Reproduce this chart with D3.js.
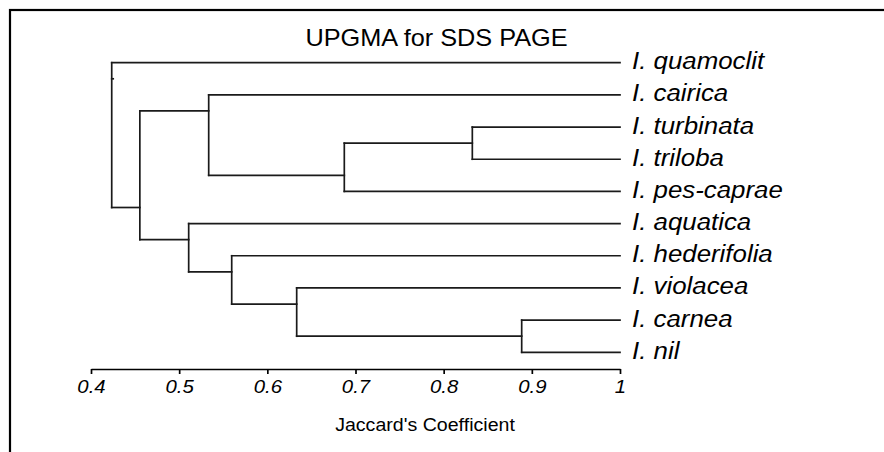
<!DOCTYPE html>
<html>
<head>
<meta charset="utf-8">
<script src="https://cdn.jsdelivr.net/npm/d3@7"></script>
<style>
  body { margin: 0; background: #fff; }
  text { font-family: "Liberation Sans", Arial, sans-serif; fill: #000; }
</style>
</head>
<body>
<div id="chart"></div>
<script>
// Width and height
var w = 884;
var h = 452;

// leaves, top to bottom
var species = ["I. quamoclit", "I. cairica", "I. turbinata", "I. triloba", "I. pes-caprae",
               "I. aquatica", "I. hederifolia", "I. violacea", "I. carnea", "I. nil"];

// UPGMA merges, "nK" = result of merge K (1-based); first item is the upper branch
var mergeA = ["I. carnea", "I. turbinata", "n2", "I. violacea", "I. hederifolia", "I. aquatica", "I. cairica", "n7", "I. quamoclit"];
var mergeB = ["I. nil", "I. triloba", "I. pes-caprae", "n1", "n4", "n5", "n3", "n6", "n8"];
var mergeHeight = [0.8885, 0.8325, 0.6873, 0.6333, 0.5596, 0.5108, 0.5335, 0.4554, 0.4235];

var tickValues = [0.4, 0.5, 0.6, 0.7, 0.8, 0.9, 1];

var x = d3.scaleLinear().domain([0.4, 1]).range([91, 620]);
var y = d3.scalePoint().domain(species).range([62.7, 352.3]).padding(0);

var svg = d3.select("#chart")
  .append("svg")
  .attr("width", w)
  .attr("height", h);

// outer frame (runs past the right and bottom edge)
svg.append("rect")
  .attr("x", 10).attr("y", 10)
  .attr("width", 900).attr("height", 480)
  .attr("fill", "none")
  .attr("stroke", "#000")
  .attr("stroke-width", 2.2);

// build node info
var nodes = {};
species.forEach(function(s) {
  nodes[s] = { x: x(1), y: y(s), first: y(s), last: y(s) };
});

var segs = [];
for (var i = 0; i < mergeHeight.length; i++) {
  var a = nodes[mergeA[i]], b = nodes[mergeB[i]];
  var nx = x(mergeHeight[i]);
  // horizontal branches
  segs.push([a.x, a.y, nx, a.y]);
  segs.push([b.x, b.y, nx, b.y]);
  // vertical join
  segs.push([nx, a.y, nx, b.y]);
  nodes["n" + (i + 1)] = { x: nx, y: (a.last + b.first) / 2, first: a.first, last: b.last };
}
var root = nodes["n" + mergeHeight.length];
segs.push([root.x, root.y, root.x + 1.5, root.y]);

svg.selectAll("line.branch")
  .data(segs)
  .enter()
  .append("line")
  .attr("class", "branch")
  .attr("x1", function(d) { return d[0]; })
  .attr("y1", function(d) { return d[1]; })
  .attr("x2", function(d) { return d[2]; })
  .attr("y2", function(d) { return d[3]; })
  .attr("stroke", "#1a1a1a")
  .attr("stroke-width", 1.7)
  .attr("stroke-linecap", "square");

// leaf labels
svg.selectAll("text.leaf")
  .data(species)
  .enter()
  .append("text")
  .attr("class", "leaf")
  .attr("transform", function(d) { return "translate(632," + (y(d) + 6.5) + ") scale(1.1,1)"; })
  .attr("font-size", "23.5px")
  .attr("font-style", "italic")
  .text(function(d) { return d; });

// axis
var axis = d3.axisBottom(x)
  .tickValues(tickValues)
  .tickFormat(function(d) { return d; })
  .tickSize(5)
  .tickSizeOuter(0);

var gx = svg.append("g")
  .attr("transform", "translate(0,369)")
  .call(axis);

gx.select(".domain").attr("stroke", "#000").attr("stroke-width", 1.7);
gx.selectAll(".tick line").attr("stroke", "#000").attr("stroke-width", 1.7);
gx.selectAll(".tick text")
  .attr("y", 0)
  .attr("dy", null)
  .attr("transform", "translate(0,23.5) scale(1.1,1)")
  .attr("font-family", "Liberation Sans, Arial, sans-serif")
  .attr("font-size", "18.5px")
  .attr("font-style", "italic")
  .attr("fill", "#000");

// title
svg.append("text")
  .attr("transform", "translate(436.5,46) scale(1.1,1)")
  .attr("text-anchor", "middle")
  .attr("font-size", "23px")
  .text("UPGMA for SDS PAGE");

// axis title
svg.append("text")
  .attr("transform", "translate(425,431) scale(1.12,1)")
  .attr("text-anchor", "middle")
  .attr("font-size", "17.5px")
  .text("Jaccard's Coefficient");
</script>
</body>
</html>
